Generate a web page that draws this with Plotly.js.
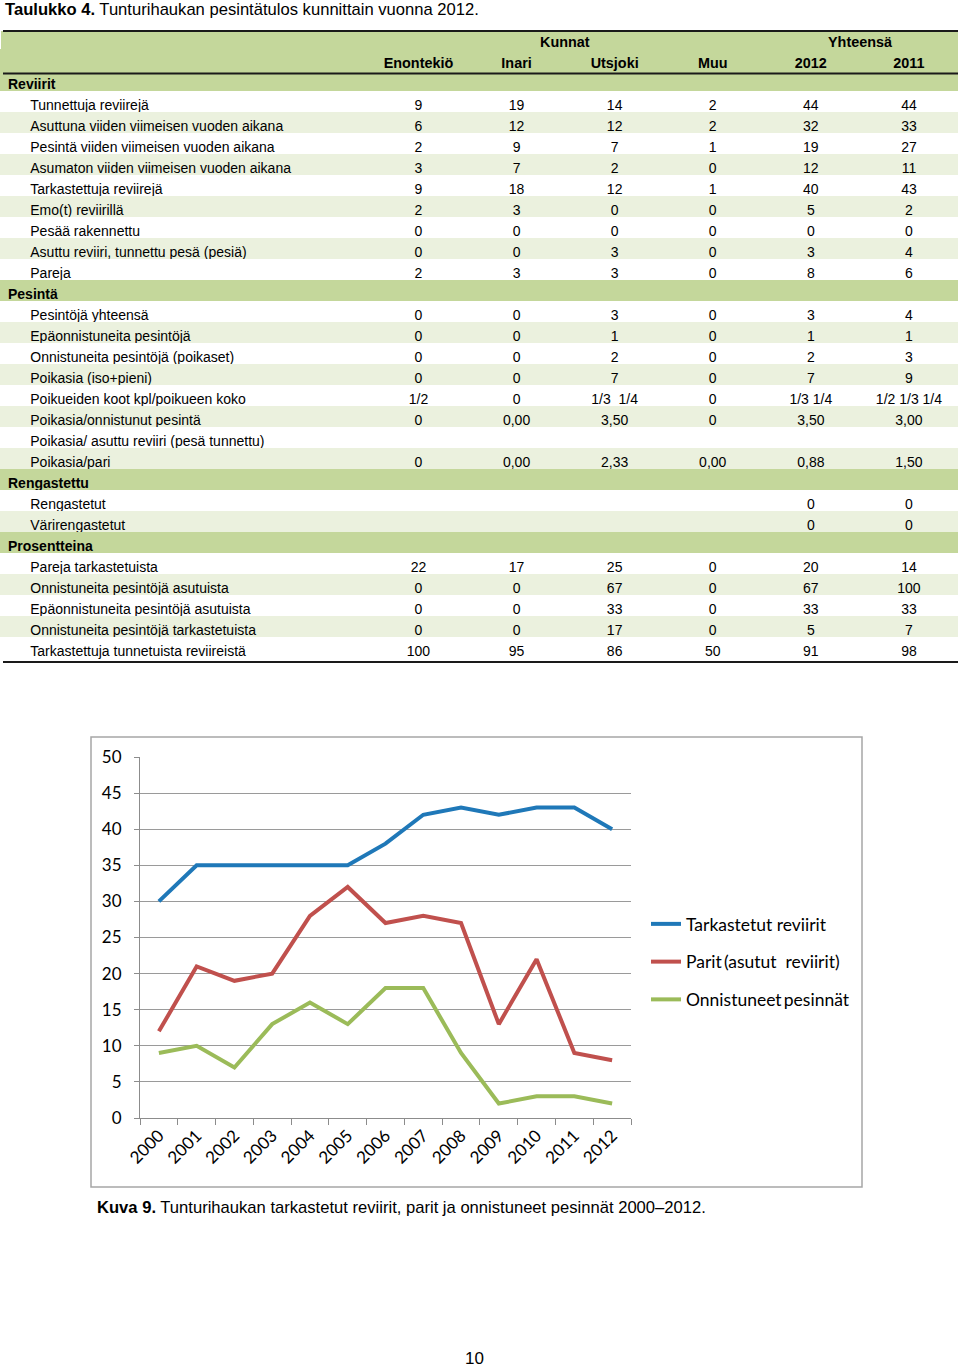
<!DOCTYPE html>
<html>
<head>
<meta charset="utf-8">
<script src="https://cdn.plot.ly/plotly-3.0.1.min.js"></script>
<style>html,body{margin:0;padding:0;background:#fff;}#chart{width:960px;height:1367px;}</style>
</head>
<body>
<div id="chart"></div>
<script>
// ---------- Table data ----------
const columnNames = ["Enontekiö", "Inari", "Utsjoki", "Muu", "2012", "2011"];
const rowLabels = [
  "Reviirit",
  "Tunnettuja reviirejä",
  "Asuttuna viiden viimeisen vuoden aikana",
  "Pesintä viiden viimeisen vuoden aikana",
  "Asumaton viiden viimeisen vuoden aikana",
  "Tarkastettuja reviirejä",
  "Emo(t) reviirillä",
  "Pesää rakennettu",
  "Asuttu reviiri, tunnettu pesä (pesiä)",
  "Pareja",
  "Pesintä",
  "Pesintöjä yhteensä",
  "Epäonnistuneita pesintöjä",
  "Onnistuneita pesintöjä (poikaset)",
  "Poikasia (iso+pieni)",
  "Poikueiden koot kpl/poikueen koko",
  "Poikasia/onnistunut pesintä",
  "Poikasia/ asuttu reviiri (pesä tunnettu)",
  "Poikasia/pari",
  "Rengastettu",
  "Rengastetut",
  "Värirengastetut",
  "Prosentteina",
  "Pareja tarkastetuista",
  "Onnistuneita pesintöjä asutuista",
  "Epäonnistuneita pesintöjä asutuista",
  "Onnistuneita pesintöjä tarkastetuista",
  "Tarkastettuja tunnetuista reviireistä"
];
const sectionRows = ["Reviirit", "Pesintä", "Rengastettu", "Prosentteina"];
const enontekio = ["", "9","6","2","3","9","2","0","0","2", "", "0","0","0","0","1/2","0","","0", "", "","", "", "22","0","0","0","100"];
const inari     = ["", "19","12","9","7","18","3","0","0","3", "", "0","0","0","0","0","0,00","","0,00", "", "","", "", "17","0","0","0","95"];
const utsjoki   = ["", "14","12","7","2","12","0","0","3","3", "", "3","1","2","7","1/3\u00a0\u00a01/4","3,50","","2,33", "", "","", "", "25","67","33","17","86"];
const muu       = ["", "2","2","1","0","1","0","0","0","0", "", "0","0","0","0","0","0","","0,00", "", "","", "", "0","0","0","0","50"];
const total2012 = ["", "44","32","19","12","40","5","0","3","8", "", "3","1","2","7","1/3 1/4","3,50","","0,88", "", "0","0", "", "20","67","33","5","91"];
const total2011 = ["", "44","33","27","11","43","2","0","4","6", "", "4","1","3","9","1/2 1/3 1/4","3,00","","1,50", "", "0","0", "", "14","100","33","7","98"];

// ---------- Chart data ----------
const years = ["2000","2001","2002","2003","2004","2005","2006","2007","2008","2009","2010","2011","2012"];
const tarkastetut = [30, 35, 35, 35, 35, 35, 38, 42, 43, 42, 43, 43, 40];
const parit       = [12, 21, 19, 20, 28, 32, 27, 28, 27, 13, 22, 9, 8];
const onnistuneet = [9, 10, 7, 13, 16, 13, 18, 18, 9, 2, 3, 3, 2];
const seriesNames = ["Tarkastetut reviirit", "Parit\u2009(asutut\u00a0 reviirit)", "Onnistuneet\u2009pesinnät"];

// ---------- Build ----------
const W = 960, H = 1367;
const px = v => v / W;
const py = v => 1 - v / H;

const SECTION = "#c4d79b", LIGHT = "#ebf1de", WHITE = "#ffffff";
const indent = "\u00a0\u00a0\u00a0\u00a0\u00a0\u2009";
const isSection = rowLabels.map(l => sectionRows.includes(l));
const rowFill = [];
let k = 0;
isSection.forEach(s => {
  if (s) { rowFill.push(SECTION); k = 0; }
  else { k++; rowFill.push(k % 2 === 0 ? LIGHT : WHITE); }
});
const labelCol = rowLabels.map((l, i) => isSection[i] ? l : indent + l);
const dataCols = [enontekio, inari, utsjoki, muu, total2012, total2011];
const fills = [rowFill].concat(dataCols.map(() => rowFill));
const labelWeights = isSection.map(s => s ? "bold" : "normal");
const weights = [labelWeights].concat(dataCols.map(c => c.map(() => "normal")));

const TF = "Liberation Sans, Arial, sans-serif";
const TS = 14;
const TOP_SHIFT = 3;
const table = {
  type: "table",
  domain: {x: [px(0), px(958)], y: [py(668 - TOP_SHIFT), py(52 - TOP_SHIFT)]},
  columnwidth: [369, 98, 98, 98, 98, 98, 98],
  header: {
    values: [""].concat(columnNames),
    align: ["left", "center", "center", "center", "center", "center", "center"],
    height: 21,
    fill: {color: SECTION},
    line: {color: SECTION, width: 1},
    font: {family: TF, size: 14.4, color: "#000", weight: "bold"}
  },
  cells: {
    values: [labelCol].concat(dataCols),
    align: ["left", "center", "center", "center", "center", "center", "center"],
    height: 21,
    fill: {color: fills},
    line: {color: fills, width: 1},
    font: {family: TF, size: TS, color: "#000", weight: weights}
  }
};

const colors = ["#1f78b8", "#c0504d", "#9bbb59"];
const lineTraces = [tarkastetut, parit, onnistuneet].map((vals, i) => ({
  type: "scatter", mode: "lines", x: years, y: vals, name: seriesNames[i],
  legendgroup: "g" + i,
  line: {color: colors[i], width: 4},
  xaxis: "x", yaxis: "y", hoverinfo: "skip"
}));

const f16 = "Liberation Sans, Arial, sans-serif";
const layout = {
  width: W, height: H,
  margin: {l: 0, r: 0, t: 0, b: 0},
  paper_bgcolor: "#fff", plot_bgcolor: "#fff",
  showlegend: true,
  legend: {
    x: px(646), xanchor: "left", y: py(906), yanchor: "top",
    traceorder: "grouped", tracegroupgap: 12,
    font: {family: "Lato, sans-serif", size: 17.5, color: "#000"},
    bgcolor: "rgba(0,0,0,0)"
  },
  xaxis: {
    domain: [px(140), px(631)], type: "category", range: [-0.5, 12.5],
    showline: true, linecolor: "#8c8c8c", linewidth: 1,
    ticks: "outside", tickson: "boundaries", ticklen: 6, tickcolor: "#8c8c8c",
    tickangle: -45, showgrid: false,
    tickfont: {family: "Lato, sans-serif", size: 17, color: "#000"},
    anchor: "y", fixedrange: true
  },
  yaxis: {
    domain: [py(1118), py(757)], range: [0, 50], dtick: 5,
    showline: true, linecolor: "#8c8c8c", linewidth: 1,
    ticks: "outside", ticklen: 5, tickcolor: "#8c8c8c",
    showgrid: true, gridcolor: "#9a9a9a", gridwidth: 1, zeroline: false,
    ticklabelstandoff: 9,
    tickfont: {family: "Lato, sans-serif", size: 17, color: "#000"},
    anchor: "x", fixedrange: true
  },
  shapes: [
    {type: "rect", xref: "paper", yref: "paper", x0: px(1), x1: px(958), y0: py(52), y1: py(31), fillcolor: SECTION, line: {width: 0}, layer: "below"},
    {type: "line", xref: "paper", yref: "paper", x0: px(3), x1: px(958), y0: py(31), y1: py(31), line: {color: "#1a1a1a", width: 2}},
    {type: "line", xref: "paper", yref: "paper", x0: px(3), x1: px(958), y0: py(73.5), y1: py(73.5), line: {color: "#1a1a1a", width: 2}},
    {type: "line", xref: "paper", yref: "paper", x0: px(3), x1: px(958), y0: py(662), y1: py(662), line: {color: "#1a1a1a", width: 2}},
    {type: "rect", xref: "paper", yref: "paper", x0: px(91), x1: px(862), y0: py(1187), y1: py(737), line: {color: "#a6a6a6", width: 1.5}, fillcolor: "rgba(0,0,0,0)"}
  ],
  annotations: [
    {xref: "paper", yref: "paper", x: px(3), y: py(10), xanchor: "left", yanchor: "middle", showarrow: false,
     text: "<b>Taulukko 4.</b> Tunturihaukan pesintätulos kunnittain vuonna 2012.",
     font: {family: f16, size: 16.6, color: "#000"}},
    {xref: "paper", yref: "paper", x: px(565), y: py(42), xanchor: "center", yanchor: "middle", showarrow: false,
     text: "<b>Kunnat</b>", font: {family: f16, size: 14.4, color: "#000"}},
    {xref: "paper", yref: "paper", x: px(860), y: py(42), xanchor: "center", yanchor: "middle", showarrow: false,
     text: "<b>Yhteensä</b>", font: {family: f16, size: 14.4, color: "#000"}},
    {xref: "paper", yref: "paper", x: px(95), y: py(1207), xanchor: "left", yanchor: "middle", showarrow: false,
     text: "<b>Kuva 9.</b> Tunturihaukan tarkastetut reviirit, parit ja onnistuneet pesinnät 2000–2012.",
     font: {family: f16, size: 16.6, color: "#000"}},
    {xref: "paper", yref: "paper", x: px(474), y: py(1358), xanchor: "center", yanchor: "middle", showarrow: false,
     text: "10", font: {family: f16, size: 17, color: "#000"}}
  ]
};

Plotly.newPlot("chart", [table].concat(lineTraces), layout, {displayModeBar: false, staticPlot: true});
</script>
</body>
</html>
